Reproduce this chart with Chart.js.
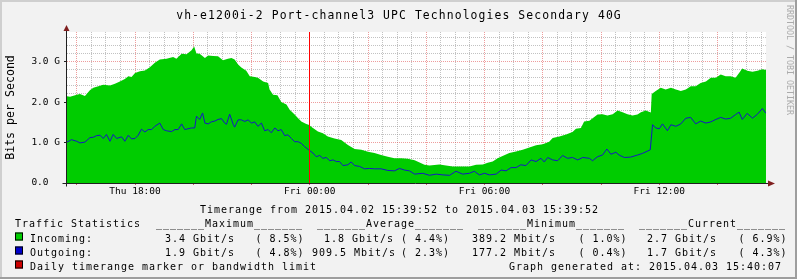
<!DOCTYPE html>
<html>
<head>
<meta charset="utf-8">
<script src="https://cdn.jsdelivr.net/npm/chart.js@4.4.0/dist/chart.umd.min.js"></script>
<style>
  html, body { margin: 0; padding: 0; background: #f2f2f2; }
  canvas { display: block; }
</style>
</head>
<body>
<canvas id="traffic" width="797" height="279"></canvas>
<script>
// time axis: hours counted from Thu 00:00
const startHour = 15 + 39 / 60 + 52 / 3600; // 2015.04.02 15:39:52
const endHour = startHour + 24;
const markerHours = [24];                    // daily timerange marker (Fri 00:00)
const xLabelHours = [18, 24, 30, 36];
const xLabels = ['Thu 18:00', 'Fri 00:00', 'Fri 06:00', 'Fri 12:00'];
const yMax = 3.73;                           // Gbit/s
const yLabelValues = [0, 1, 2, 3];
const yLabels = ['0.0', '1.0 G', '2.0 G', '3.0 G'];

// incoming traffic, Gbit/s
const inTimes = [15.664, 15.77, 16.0, 16.11, 16.28, 16.45, 16.57, 16.74, 16.91, 17.14, 17.31, 17.48, 17.65, 17.77, 17.88,
  18.0, 18.17, 18.34, 18.51, 18.68, 18.85, 19.08, 19.31, 19.42, 19.6, 19.77, 19.94, 20.03, 20.11, 20.22, 20.4, 20.51,
  20.68, 20.85, 21.02, 21.19, 21.31, 21.42, 21.54, 21.65, 21.82, 21.94, 22.11, 22.22, 22.4, 22.57, 22.62, 22.74, 22.89,
  23.02, 23.2, 23.31, 23.48, 23.6, 23.71, 23.88, 23.96, 24.11, 24.28, 24.45, 24.62, 24.85, 25.08, 25.31, 25.54, 25.77,
  26.0, 26.22, 26.45, 26.68, 26.91, 27.14, 27.37, 27.6, 27.94, 28.11, 28.45, 28.68, 28.91, 29.25, 29.48, 29.71, 29.94,
  30.11, 30.28, 30.45, 30.62, 30.85, 31.08, 31.31, 31.54, 31.77, 32.0, 32.22, 32.34, 32.57, 32.8, 33.02, 33.14, 33.31,
  33.42, 33.6, 33.88, 34.05, 34.22, 34.4, 34.57, 34.74, 34.91, 35.08, 35.25, 35.37, 35.54, 35.71, 35.74, 35.88, 36.05,
  36.22, 36.4, 36.57, 36.74, 36.91, 37.08, 37.25, 37.42, 37.6, 37.77, 37.94, 38.11, 38.28, 38.45, 38.62, 38.74, 38.85,
  39.02, 39.2, 39.37, 39.54, 39.664];
const inValues = [2.14, 2.13, 2.18, 2.20, 2.15, 2.29, 2.35, 2.39, 2.43, 2.41, 2.45, 2.51, 2.57, 2.64, 2.62,
  2.72, 2.76, 2.78, 2.86, 2.97, 3.05, 3.07, 3.11, 3.07, 3.19, 3.18, 3.28, 3.37, 3.20, 3.19, 3.09, 3.15,
  3.14, 3.13, 3.03, 3.07, 3.09, 3.05, 2.93, 2.85, 2.77, 2.64, 2.62, 2.60, 2.51, 2.47, 2.31, 2.18, 2.17,
  2.00, 1.94, 1.81, 1.69, 1.60, 1.52, 1.46, 1.44, 1.36, 1.27, 1.23, 1.15, 1.10, 1.06, 0.94, 0.84, 0.82,
  0.77, 0.74, 0.69, 0.65, 0.61, 0.61, 0.60, 0.56, 0.45, 0.43, 0.46, 0.43, 0.41, 0.41, 0.41, 0.45, 0.46,
  0.50, 0.53, 0.61, 0.67, 0.74, 0.78, 0.82, 0.88, 0.93, 0.96, 1.02, 1.11, 1.15, 1.20, 1.26, 1.34, 1.36,
  1.52, 1.54, 1.69, 1.70, 1.67, 1.70, 1.79, 1.75, 1.70, 1.67, 1.69, 1.75, 1.79, 1.74, 2.20, 2.27, 2.35,
  2.31, 2.35, 2.31, 2.27, 2.31, 2.39, 2.39, 2.47, 2.51, 2.60, 2.60, 2.68, 2.64, 2.64, 2.60, 2.72, 2.83,
  2.77, 2.75, 2.77, 2.81, 2.79];

// outgoing traffic, Gbit/s
const outTimes = [15.664, 15.82, 16.0, 16.11, 16.28, 16.45, 16.57, 16.68, 16.8, 16.91, 17.02, 17.14, 17.25, 17.37, 17.54,
  17.65, 17.77, 17.88, 18.0, 18.11, 18.22, 18.34, 18.45, 18.57, 18.68, 18.85, 18.97, 19.08, 19.25, 19.37, 19.48, 19.6,
  19.71, 19.82, 19.94, 20.05, 20.11, 20.22, 20.32, 20.4, 20.51, 20.62, 20.74, 20.85, 20.97, 21.08, 21.14, 21.25, 21.37,
  21.42, 21.54, 21.65, 21.77, 21.88, 22.0, 22.11, 22.22, 22.34, 22.45, 22.57, 22.68, 22.8, 22.91, 23.02, 23.14, 23.25,
  23.37, 23.48, 23.6, 23.71, 23.82, 23.96, 24.11, 24.22, 24.34, 24.45, 24.57, 24.68, 24.8, 24.91, 25.02, 25.14, 25.31,
  25.42, 25.54, 25.71, 25.88, 26.05, 26.22, 26.45, 26.68, 26.91, 27.08, 27.25, 27.42, 27.6, 27.88, 28.11, 28.34, 28.57,
  28.8, 29.02, 29.25, 29.48, 29.65, 29.82, 30.0, 30.17, 30.4, 30.57, 30.74, 30.91, 31.08, 31.25, 31.42, 31.6, 31.77,
  31.94, 32.05, 32.17, 32.34, 32.51, 32.68, 32.85, 33.02, 33.2, 33.37, 33.6, 33.71, 33.88, 34.05, 34.2, 34.34, 34.51,
  34.62, 34.8, 35.02, 35.25, 35.42, 35.6, 35.69, 35.77, 35.88, 36.0, 36.11, 36.28, 36.4, 36.57, 36.74, 36.91, 37.08,
  37.25, 37.42, 37.6, 37.77, 37.94, 38.11, 38.28, 38.45, 38.62, 38.74, 38.85, 39.02, 39.2, 39.37, 39.54, 39.664];
const outValues = [1.01, 1.07, 1.03, 0.99, 1.01, 1.12, 1.13, 1.17, 1.18, 1.10, 1.20, 1.03, 1.20, 1.10, 1.14,
  1.03, 1.18, 1.09, 1.10, 1.18, 1.33, 1.26, 1.32, 1.32, 1.40, 1.48, 1.32, 1.29, 1.27, 1.32, 1.32, 1.46,
  1.32, 1.34, 1.36, 1.36, 1.65, 1.57, 1.73, 1.48, 1.46, 1.51, 1.53, 1.57, 1.59, 1.48, 1.45, 1.70, 1.45,
  1.38, 1.56, 1.56, 1.52, 1.56, 1.48, 1.51, 1.40, 1.48, 1.29, 1.32, 1.24, 1.36, 1.29, 1.32, 1.17, 1.19,
  1.10, 1.02, 1.02, 0.98, 0.90, 0.82, 0.74, 0.65, 0.68, 0.61, 0.63, 0.55, 0.57, 0.53, 0.53, 0.43, 0.45,
  0.52, 0.43, 0.41, 0.35, 0.36, 0.35, 0.35, 0.31, 0.30, 0.36, 0.32, 0.30, 0.22, 0.24, 0.19, 0.22, 0.20,
  0.19, 0.29, 0.22, 0.24, 0.29, 0.20, 0.24, 0.20, 0.22, 0.32, 0.30, 0.38, 0.38, 0.45, 0.43, 0.57, 0.53,
  0.61, 0.52, 0.63, 0.57, 0.55, 0.68, 0.61, 0.63, 0.57, 0.63, 0.61, 0.55, 0.65, 0.69, 0.84, 0.71, 0.76,
  0.69, 0.63, 0.64, 0.69, 0.73, 0.79, 0.82, 1.44, 1.36, 1.34, 1.46, 1.29, 1.44, 1.40, 1.46, 1.60, 1.62,
  1.46, 1.53, 1.48, 1.51, 1.57, 1.62, 1.58, 1.60, 1.69, 1.75, 1.57, 1.72, 1.60, 1.70, 1.84, 1.72];

// legend texts
const titleText = 'vh-e1200i-2 Port-channel3 UPC Technologies Secondary 40G';
const timerangeText = 'Timerange from 2015.04.02 15:39:52 to 2015.04.03 15:39:52';
const statHeaders = ['Maximum', 'Average', 'Minimum', 'Current'];
const inStats = ['3.4 Gbit/s', '( 8.5%)', '1.8 Gbit/s', '( 4.4%)', '389.2 Mbit/s', '( 1.0%)', '2.7 Gbit/s', '( 6.9%)'];
const outStats = ['1.9 Gbit/s', '( 4.8%)', '909.5 Mbit/s', '( 2.3%)', '177.2 Mbit/s', '( 0.4%)', '1.7 Gbit/s', '( 4.3%)'];
const generatedText = 'Graph generated at: 2015.04.03 15:40:07';

const MONO = "'DejaVu Sans Mono', monospace";
const GREEN = '#00cc00';
const BLUE_LINE = '#1616c4';
const BLUE_BOX = '#0000cc';
const RED = '#ff0000';
const GRID = 'rgba(143,143,143,0.55)';
const MGRID = 'rgba(222,60,60,0.5)';

function monoFont(ctx, size, advance) {
  if ('letterSpacing' in ctx) {
    ctx.font = size + 'px ' + MONO;
    ctx.letterSpacing = (advance - size * 0.602).toFixed(2) + 'px';
  } else {
    ctx.font = (advance / 0.602).toFixed(1) + 'px ' + MONO;
  }
}

function legendBox(ctx, x, baseline, color) {
  ctx.fillStyle = color;
  ctx.fillRect(x, baseline - 9, 8, 8);
  ctx.strokeStyle = '#000';
  ctx.lineWidth = 1;
  ctx.strokeRect(x + 0.5, baseline - 8.5, 7, 7);
}

const rrdLook = {
  id: 'rrdLook',
  beforeDraw(chart) {
    const { ctx, chartArea: a, width, height } = chart;
    ctx.save();
    ctx.fillStyle = '#f2f2f2';
    ctx.fillRect(0, 0, width, height);
    ctx.fillStyle = '#cfcfcf';
    ctx.fillRect(0, 0, width, 2);
    ctx.fillRect(0, 0, 2, height);
    ctx.fillStyle = '#9e9e9e';
    ctx.fillRect(0, height - 2, width, 2);
    ctx.fillRect(width - 2, 0, 2, height);
    ctx.fillStyle = '#ffffff';
    ctx.fillRect(a.left, a.top, a.right - a.left, a.bottom - a.top);
    ctx.restore();
  },
  afterDatasetsDraw(chart) {
    const { ctx, chartArea: a, scales: { x } } = chart;
    ctx.save();
    ctx.lineWidth = 1;
    ctx.strokeStyle = RED;
    markerHours.forEach((h) => {
      const px = Math.floor(x.getPixelForValue(h)) + 0.5;
      ctx.beginPath();
      ctx.moveTo(px, a.top);
      ctx.lineTo(px, a.bottom);
      ctx.stroke();
    });
    // axes
    const ax = a.left - 0.5;
    const ay = a.bottom + 0.5;
    ctx.strokeStyle = '#202020';
    ctx.beginPath();
    ctx.moveTo(ax, a.top - 3);
    ctx.lineTo(ax, ay + 3);
    ctx.moveTo(ax - 4, ay);
    ctx.lineTo(a.right + 3, ay);
    ctx.stroke();
    ctx.fillStyle = '#7f1f1f';
    ctx.beginPath();
    ctx.moveTo(ax - 3, a.top - 1);
    ctx.lineTo(ax + 3, a.top - 1);
    ctx.lineTo(ax, a.top - 7);
    ctx.closePath();
    ctx.fill();
    ctx.beginPath();
    ctx.moveTo(a.right + 2, ay - 3);
    ctx.lineTo(a.right + 2, ay + 3);
    ctx.lineTo(a.right + 9, ay);
    ctx.closePath();
    ctx.fill();
    ctx.restore();
  },
  afterDraw(chart) {
    const { ctx, width } = chart;
    ctx.save();
    ctx.fillStyle = '#000';
    ctx.textBaseline = 'alphabetic';

    // title
    monoFont(ctx, 11.4, 7.96);
    ctx.textAlign = 'center';
    ctx.fillText(titleText, width / 2 + 0.5, 18.5);

    // legend
    monoFont(ctx, 10, 7.0);
    ctx.fillText(timerangeText, 399.5, 212.5);
    ctx.textAlign = 'left';
    ctx.fillText('Traffic Statistics', 15, 227);
    const headX = [156, 317, 478, 639];
    statHeaders.forEach((h, i) => {
      ctx.fillText('_______' + h + '_______', headX[i], 227);
    });

    legendBox(ctx, 15, 241.5, GREEN);
    legendBox(ctx, 15, 255.5, BLUE_BOX);
    legendBox(ctx, 15, 269.5, '#cc0000');
    ctx.fillStyle = '#000';
    ctx.fillText('Incoming:', 30, 241.5);
    ctx.fillText('Outgoing:', 30, 255.5);
    ctx.fillText('Daily timerange marker or bandwidth limit', 30, 269.5);

    const inX = [165, 255.5, 324, 401, 472, 578.5, 647, 738.5];
    const outX = [165, 255.5, 312, 401, 472, 578.5, 647, 738.5];
    inStats.forEach((s, i) => ctx.fillText(s, inX[i], 241.5));
    outStats.forEach((s, i) => ctx.fillText(s, outX[i], 255.5));

    ctx.textAlign = 'right';
    ctx.fillText(generatedText, 782, 269.5);

    // watermark
    if ('letterSpacing' in ctx) ctx.letterSpacing = '0px';
    ctx.font = '8.3px ' + MONO;
    ctx.fillStyle = '#ababab';
    ctx.textAlign = 'left';
    ctx.textBaseline = 'middle';
    ctx.translate(789, 5);
    ctx.rotate(Math.PI / 2);
    ctx.fillText('RRDTOOL / TOBI OETIKER', 0, 0);
    ctx.restore();
  }
};

new Chart(document.getElementById('traffic'), {
  type: 'line',
  data: {
    datasets: [
      {
        label: 'Incoming',
        data: inTimes.map((t, i) => ({ x: t, y: inValues[i] })),
        fill: 'origin',
        backgroundColor: GREEN,
        borderColor: 'rgba(0,0,0,0)',
        borderWidth: 0,
        pointRadius: 0,
        tension: 0,
        order: 2
      },
      {
        label: 'Outgoing',
        data: outTimes.map((t, i) => ({ x: t, y: outValues[i] })),
        fill: false,
        borderColor: BLUE_LINE,
        borderWidth: 1,
        pointRadius: 0,
        tension: 0,
        order: 1
      }
    ]
  },
  options: {
    responsive: false,
    animation: false,
    devicePixelRatio: 1,
    layout: { padding: { left: 0, top: 32, right: 31, bottom: 76 } },
    plugins: {
      legend: { display: false },
      title: { display: false },
      tooltip: { enabled: false }
    },
    scales: {
      x: {
        type: 'linear',
        min: startHour,
        max: endHour,
        afterFit(s) { s.height = 20; },
        afterBuildTicks(s) {
          const ticks = [];
          for (let h = Math.ceil(startHour * 2) / 2; h < endHour; h += 0.5) ticks.push({ value: h });
          s.ticks = ticks;
        },
        ticks: {
          autoSkip: false,
          maxRotation: 0,
          padding: 1,
          color: '#000',
          font: { family: MONO, size: 9.5 },
          callback(v) {
            const i = xLabelHours.indexOf(v);
            return i < 0 ? '' : xLabels[i];
          }
        },
        grid: {
          color: (c) => (c.tick && c.tick.value % 2 === 0 ? MGRID : GRID),
          tickColor: (c) => (c.tick && c.tick.value % 2 === 0 ? '#d06060' : 'rgba(0,0,0,0)'),
          tickLength: 2,
          lineWidth: 1
        },
        border: { display: false, dash: [1, 1] }
      },
      y: {
        type: 'linear',
        min: 0,
        max: yMax,
        afterFit(s) { s.width = 67; },
        afterBuildTicks(s) {
          const ticks = [];
          for (let i = 0; i * 0.2 < yMax; i++) ticks.push({ value: Math.round(i * 2) / 10 });
          s.ticks = ticks;
        },
        ticks: {
          autoSkip: false,
          padding: 4,
          color: '#000',
          font: { family: MONO, size: 9.5 },
          callback(v) {
            const i = yLabelValues.indexOf(v);
            return i < 0 ? '' : yLabels[i].padEnd(5, ' ');
          }
        },
        grid: {
          color: (c) => {
            const v = c.tick ? c.tick.value : 0;
            if (v === 0) return 'rgba(0,0,0,0)';
            return Number.isInteger(v) ? MGRID : GRID;
          },
          tickColor: (c) => (c.tick && Number.isInteger(c.tick.value) ? '#202020' : 'rgba(0,0,0,0)'),
          tickLength: 3,
          lineWidth: 1
        },
        border: { display: false, dash: [1, 1] },
        title: {
          display: true,
          text: 'Bits per Second',
          color: '#000',
          font: { family: MONO, size: 11.6 },
          padding: { top: 4, bottom: 0 }
        }
      }
    }
  },
  plugins: [rrdLook]
});
</script>
</body>
</html>
